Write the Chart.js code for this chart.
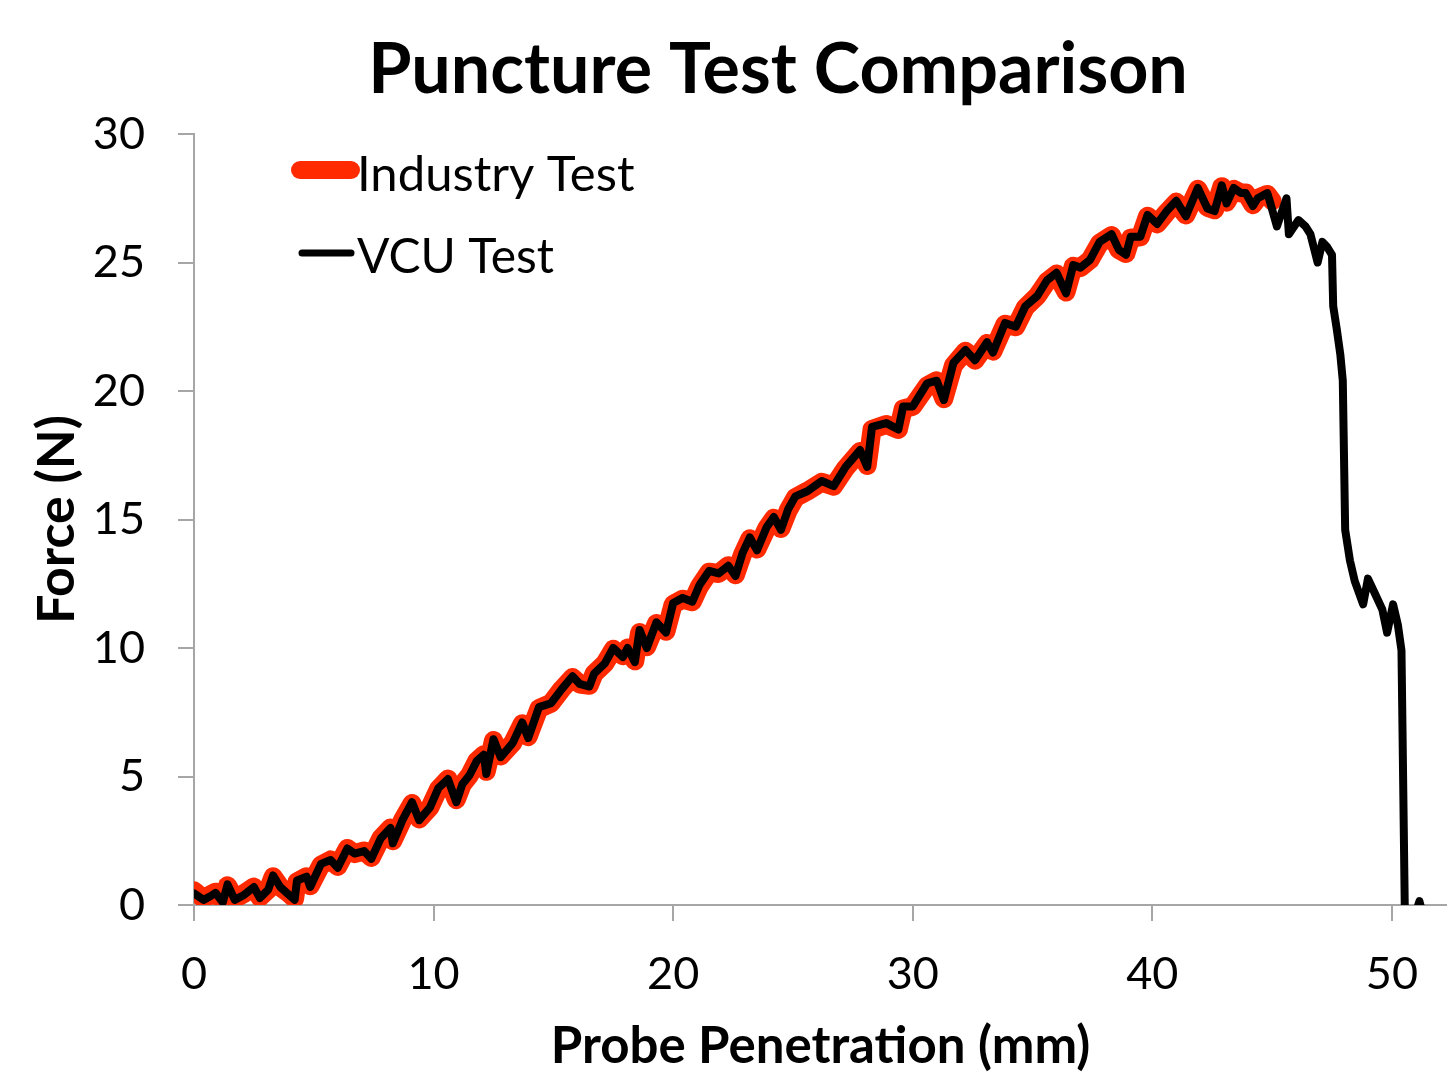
<!DOCTYPE html>
<html>
<head>
<meta charset="utf-8">
<script src="https://cdn.jsdelivr.net/npm/chart.js@4"></script>
<style>
  body { margin: 0; background: #fff; }
  #wrap { width: 1447px; height: 1077px; position: relative; }
</style>
</head>
<body>
<div id="wrap"><canvas id="myChart"></canvas></div>
<script>
// values
const vcuPenetration = [0.0, 0.4, 0.7, 0.9, 1.2, 1.4, 1.7, 2.1, 2.5, 2.75, 3.1, 3.3, 3.6, 3.9, 4.2, 4.3, 4.7, 4.85, 5.3, 5.7,
  6.0, 6.4, 6.7, 7.1, 7.4, 7.8, 8.2, 8.3, 8.7, 9.1, 9.4, 9.85, 10.2, 10.6, 10.95, 11.2, 11.5, 11.8, 12.1, 12.2,
  12.5, 12.8, 13.3, 13.7, 13.95, 14.4, 14.9, 15.35, 15.8, 16.1, 16.5, 16.7, 17.15, 17.5, 17.9, 18.1, 18.4, 18.6, 18.9, 19.3,
  19.7, 20.0, 20.4, 20.8, 21.1, 21.5, 21.9, 22.3, 22.6, 22.9, 23.2, 23.5, 23.9, 24.2, 24.5, 24.8, 25.1, 25.6, 26.2, 26.7,
  27.2, 27.8, 28.1, 28.3, 28.9, 29.4, 29.6, 30.0, 30.6, 31.0, 31.3, 31.7, 32.2, 32.6, 33.1, 33.35, 33.85, 34.3, 34.7, 35.2,
  35.6, 36.0, 36.4, 36.7, 37.0, 37.4, 37.8, 38.3, 38.6, 38.9, 39.1, 39.5, 39.8, 40.2, 40.6, 41.0, 41.4, 41.9, 42.3, 42.6,
  42.9, 43.1, 43.4, 43.7, 43.9, 44.2, 44.4, 44.8, 44.9, 45.2, 45.6, 45.7, 46.1, 46.4, 46.6, 46.9, 47.1, 47.3, 47.5, 47.55,
  47.7, 47.85, 47.95, 48.05, 48.25, 48.45, 48.8, 49.0, 49.3, 49.6, 49.8, 50.05, 50.25, 50.4, 50.55, 50.9, 51.15, 51.35];
const vcuForce = [0.45, 0.2, 0.35, 0.47, 0.1, 0.8, 0.2, 0.4, 0.7, 0.27, 0.6, 1.15, 0.7, 0.45, 0.2, 0.95, 1.1, 0.7, 1.6, 1.75,
  1.45, 2.2, 2.0, 2.1, 1.8, 2.6, 3.0, 2.4, 3.3, 4.0, 3.3, 3.8, 4.55, 4.9, 4.0, 4.7, 5.05, 5.6, 5.85, 5.1,
  6.45, 5.75, 6.3, 7.1, 6.5, 7.7, 7.85, 8.4, 8.9, 8.6, 8.5, 9.0, 9.4, 10.0, 9.65, 10.0, 9.45, 10.7, 10.0, 11.0,
  10.6, 11.75, 11.95, 11.8, 12.45, 13.0, 12.9, 13.2, 12.8, 13.7, 14.3, 13.8, 14.7, 15.1, 14.6, 15.4, 15.9, 16.1, 16.5, 16.3,
  17.05, 17.7, 17.05, 18.6, 18.75, 18.5, 19.4, 19.4, 20.3, 20.4, 19.65, 21.1, 21.6, 21.2, 21.9, 21.5, 22.65, 22.5, 23.3, 23.7,
  24.3, 24.6, 23.8, 24.9, 24.8, 25.1, 25.8, 26.1, 25.5, 25.3, 26.0, 26.0, 26.85, 26.5, 27.0, 27.4, 26.8, 27.9, 27.1, 27.0,
  28.0, 27.3, 27.9, 27.7, 27.7, 27.2, 27.5, 27.7, 27.4, 26.4, 27.5, 26.1, 26.65, 26.4, 26.1, 25.0, 25.8, 25.6, 25.3, 23.3,
  22.4, 21.4, 20.4, 14.6, 13.4, 12.6, 11.7, 12.7, 12.1, 11.5, 10.6, 11.7, 10.9, 9.9, -1.0, -0.6, 0.15, -0.6];

const industryPenetration = [0.0, 0.4, 0.7, 0.9, 1.2, 1.4, 1.7, 2.1, 2.5, 2.75, 3.1, 3.3, 3.6, 3.9, 4.2, 4.3, 4.7, 4.85, 5.3, 5.7,
  6.0, 6.4, 6.7, 7.1, 7.4, 7.8, 8.2, 8.3, 8.7, 9.1, 9.4, 9.85, 10.2, 10.6, 10.95, 11.2, 11.5, 11.8, 12.1, 12.2,
  12.5, 12.8, 13.3, 13.7, 13.95, 14.4, 14.9, 15.35, 15.8, 16.1, 16.5, 16.7, 17.15, 17.5, 17.9, 18.1, 18.4, 18.6, 18.9, 19.3,
  19.7, 20.0, 20.4, 20.8, 21.1, 21.5, 21.9, 22.3, 22.6, 22.9, 23.2, 23.5, 23.9, 24.2, 24.5, 24.8, 25.1, 25.6, 26.2, 26.7,
  27.2, 27.8, 28.1, 28.3, 28.9, 29.4, 29.6, 30.0, 30.6, 31.0, 31.3, 31.7, 32.2, 32.6, 33.1, 33.35, 33.85, 34.3, 34.7, 35.2,
  35.6, 36.0, 36.4, 36.7, 37.0, 37.4, 37.8, 38.3, 38.6, 38.9, 39.1, 39.5, 39.8, 40.2, 40.6, 41.0, 41.4, 41.9, 42.3, 42.6,
  42.9, 43.1, 43.4, 43.7, 43.9, 44.2, 44.4, 44.8, 45.0];
const industryForce = [0.55, 0.25, 0.4, 0.5, 0.15, 0.75, 0.25, 0.45, 0.7, 0.3, 0.6, 1.1, 0.7, 0.5, 0.25, 0.9, 1.1, 0.75, 1.55, 1.75,
  1.5, 2.2, 2.0, 2.1, 1.85, 2.6, 3.0, 2.5, 3.3, 3.95, 3.35, 3.8, 4.5, 4.9, 4.1, 4.7, 5.05, 5.6, 5.85, 5.2,
  6.4, 5.8, 6.3, 7.05, 6.55, 7.65, 7.85, 8.4, 8.85, 8.6, 8.55, 9.0, 9.4, 9.95, 9.7, 10.0, 9.5, 10.6, 10.05, 10.95,
  10.65, 11.7, 11.9, 11.8, 12.4, 12.95, 12.9, 13.2, 12.85, 13.65, 14.25, 13.85, 14.65, 15.05, 14.65, 15.35, 15.85, 16.1, 16.45, 16.3,
  17.0, 17.65, 17.1, 18.5, 18.7, 18.5, 19.3, 19.4, 20.2, 20.4, 19.7, 21.0, 21.55, 21.2, 21.85, 21.55, 22.6, 22.5, 23.25, 23.7,
  24.25, 24.55, 23.85, 24.85, 24.8, 25.1, 25.75, 26.05, 25.5, 25.35, 25.95, 26.0, 26.8, 26.5, 26.95, 27.35, 26.85, 27.85, 27.15, 27.05,
  27.95, 27.35, 27.85, 27.7, 27.7, 27.25, 27.5, 27.65, 27.4];

const xTicks = [0, 10, 20, 30, 40, 50];
const yTicks = [0, 5, 10, 15, 20, 25, 30];

const vcuPoints = vcuPenetration.map((x, i) => ({ x: x, y: vcuForce[i] }));
const industryPoints = industryPenetration.map((x, i) => ({ x: x, y: industryForce[i] }));

const axisGray = '#a6a6a6';
const fontFamily = 'Lato, "Open Sans", sans-serif';
const chartTitle = 'Puncture Test Comparison';

// title is not centred on the canvas in the original, so draw it by hand
const titleAndLegend = {
  id: 'titleAndLegend',
  afterDraw(chart) {
    const ctx = chart.ctx;
    ctx.save();
    ctx.fillStyle = '#000';
    ctx.textAlign = 'center';
    ctx.textBaseline = 'middle';
    ctx.font = 'bold 70px ' + fontFamily;
    ctx.fillText(chartTitle, 778, 70);

    // legend inside the plot, top-left
    const rows = [
      { ds: chart.data.datasets[0], y: 170, x0: 300, x1: 351, size: 49 },
      { ds: chart.data.datasets[1], y: 253, x0: 302, x1: 351, size: 48 }
    ];
    rows.forEach(r => {
      ctx.beginPath();
      ctx.lineCap = 'round';
      ctx.strokeStyle = r.ds.borderColor;
      ctx.lineWidth = r.ds.borderWidth - 1;
      ctx.moveTo(r.x0, r.y);
      ctx.lineTo(r.x1, r.y);
      ctx.stroke();
      ctx.fillStyle = '#000';
      ctx.font = r.size + 'px ' + fontFamily;
      ctx.textBaseline = 'middle';
      ctx.textAlign = 'left';
      ctx.fillText(r.ds.label, 357, r.y + 5);
    });
    ctx.restore();
  }
};

new Chart(document.getElementById('myChart'), {
  type: 'line',
  data: {
    datasets: [{
      label: 'Industry Test',
      data: industryPoints,
      borderColor: '#ff2a00',
      borderWidth: 19,
      borderJoinStyle: 'round',
      borderCapStyle: 'round',
      pointRadius: 0,
      tension: 0,
      clip: 0,
      order: 2
    }, {
      label: 'VCU Test',
      data: vcuPoints,
      borderColor: '#000000',
      borderWidth: 8,
      borderJoinStyle: 'round',
      borderCapStyle: 'round',
      pointRadius: 0,
      tension: 0,
      clip: 0,
      order: 1
    }]
  },
  options: {
    responsive: true,
    maintainAspectRatio: false,
    devicePixelRatio: 1,
    animation: false,
    layout: { padding: { left: 0, right: 0, top: 134, bottom: 0 } },
    plugins: {
      legend: { display: false },
      tooltip: { enabled: false },
      title: { display: false }
    },
    scales: {
      x: {
        type: 'linear',
        min: 0,
        max: 52.3,
        afterBuildTicks: (axis) => { axis.ticks = xTicks.map(v => ({ value: v })); },
        afterFit: (axis) => { axis.height = 172; },
        grid: { drawOnChartArea: false, tickLength: 16, color: axisGray, lineWidth: 2 },
        border: { color: axisGray, width: 2 },
        ticks: { color: '#000', padding: 26, maxRotation: 0, font: { family: fontFamily, size: 45 } },
        title: {
          display: true,
          text: 'Probe Penetration (mm)',
          color: '#000',
          font: { family: fontFamily, size: 51, weight: 'bold', lineHeight: 1.2 },
          padding: { top: 0, bottom: 0 }
        }
      },
      y: {
        type: 'linear',
        min: 0,
        max: 30,
        afterBuildTicks: (axis) => { axis.ticks = yTicks.map(v => ({ value: v })); },
        afterFit: (axis) => { axis.width = 194; },
        grid: { drawOnChartArea: false, tickLength: 16, color: axisGray, lineWidth: 2 },
        border: { color: axisGray, width: 2 },
        ticks: { color: '#000', padding: 33, font: { family: fontFamily, size: 45 } },
        title: {
          display: true,
          text: 'Force (N)',
          color: '#000',
          font: { family: fontFamily, size: 52, weight: 'bold', lineHeight: 1.2 },
          padding: { top: 26, bottom: 0 }
        }
      }
    }
  },
  plugins: [titleAndLegend]
});
</script>
</body>
</html>
